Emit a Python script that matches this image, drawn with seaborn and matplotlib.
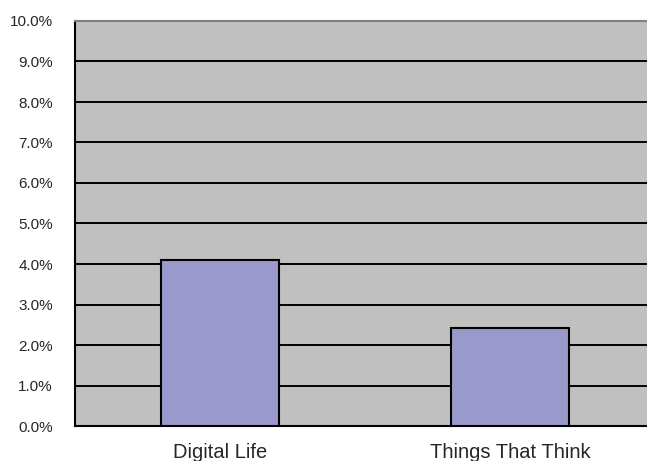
import matplotlib
matplotlib.use("Agg")
import matplotlib.pyplot as plt
import pandas as pd
import seaborn as sns
from matplotlib.ticker import PercentFormatter

categories = ["Digital Life", "Things That Think"]
values = [4.1, 2.43]

df = pd.DataFrame({"category": categories, "value": values})

sns.set_style("white")
plt.rcParams['font.family'] = ['Liberation Sans', 'DejaVu Sans']

fig = plt.figure(figsize=(6.47, 4.61), dpi=100)
ax = fig.add_axes([75 / 647, 35 / 461, 580 / 647, 405 / 461])
ax.set_facecolor("#C0C0C0")

sns.barplot(data=df, x="category", y="value", color="#9999CC", width=0.41,
            edgecolor="black", linewidth=1.5, saturation=1, ax=ax, zorder=3)

ax.set_ylim(0, 10)
ax.set_xlim(-0.5, 1.5)
ax.set_yticks(range(0, 11))
ax.yaxis.set_major_formatter(PercentFormatter(decimals=1))
ax.yaxis.grid(True, color="black", linewidth=1.4, zorder=1)
ax.set_axisbelow(True)

ax.set_xticks([0.5], minor=False)
ax.set_xticklabels([""])
ax.set_xticks([0, 1], minor=True)
ax.set_xticklabels(categories, minor=True)
ax.tick_params(axis="x", which="major", length=5, width=1, color="black", direction="out")
ax.tick_params(axis="x", which="minor", length=0, pad=12, labelsize=14.5)
ax.tick_params(axis="y", length=5, width=1, color="black", direction="out", pad=11, labelsize=11)

ax.set_xlabel("")
ax.set_ylabel("")
for side in ["left", "bottom"]:
    ax.spines[side].set_color("black")
    ax.spines[side].set_linewidth(1.5)
ax.spines["top"].set_color("#808080")
ax.spines["top"].set_linewidth(1.5)
ax.spines["right"].set_visible(False)

fig.savefig("out.png", dpi=100)
